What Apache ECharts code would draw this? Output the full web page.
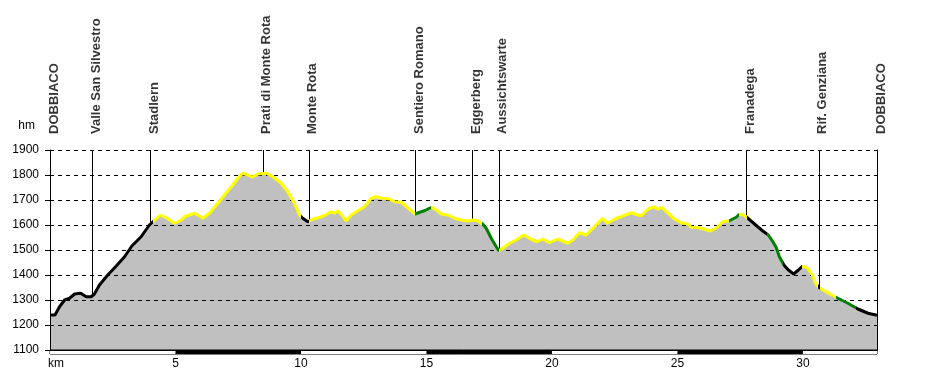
<!DOCTYPE html>
<html><head><meta charset="utf-8">
<script src="https://cdn.jsdelivr.net/npm/echarts@6/dist/echarts.min.js"></script>
<style>html,body{margin:0;padding:0;background:#fff}#c{width:927px;height:380px}</style>
</head><body><div id="c"></div>
<script>
// Elevation profile (km, metres)
const kmValues = [0,0.2,0.38,0.58,0.78,0.98,1.22,1.44,1.64,1.77,1.97,2.30,2.64,2.97,3.26,3.63,3.96,4.10,4.40,4.67,4.96,5.23,5.40,5.76,6.09,6.35,6.69,6.95,7.28,7.48,7.68,7.88,8.06,8.28,8.61,8.88,9.21,9.47,9.74,9.94,10.07,10.27,10.47,10.74,10.94,11.2,11.33,11.47,11.63,11.80,12.0,12.26,12.53,12.8,12.96,13.26,13.53,13.73,13.99,14.25,14.55,14.79,14.92,15.12,15.21,15.39,15.59,15.85,16.12,16.38,16.65,16.84,17.04,17.24,17.38,17.58,17.78,17.88,18.04,18.31,18.57,18.88,19.17,19.41,19.63,19.9,20.23,20.63,20.83,21.1,21.36,21.69,22.02,22.2,22.49,22.82,23.16,23.42,23.56,23.82,24.05,24.22,24.38,24.62,24.88,25.15,25.41,25.55,25.88,26.08,26.31,26.54,26.8,27.07,27.34,27.47,27.64,27.76,27.92,28.2,28.4,28.62,28.8,28.93,29.06,29.24,29.42,29.63,29.82,29.99,30.19,30.37,30.5,30.63,30.86,31.15,31.39,31.79,32.19,32.59,32.95];
const elevValues = [1240,1240,1273,1300,1307,1324,1327,1313,1313,1324,1360,1400,1436,1473,1516,1553,1600,1613,1640,1627,1607,1620,1635,1647,1627,1647,1687,1720,1760,1787,1807,1800,1791,1804,1807,1793,1767,1733,1687,1640,1627,1613,1623,1631,1638,1653,1647,1656,1640,1616,1640,1657,1673,1707,1713,1707,1704,1693,1691,1669,1644,1653,1657,1667,1671,1660,1644,1640,1627,1620,1616,1620,1617,1604,1587,1547,1513,1497,1507,1527,1540,1560,1543,1533,1544,1529,1544,1527,1540,1569,1560,1593,1627,1607,1623,1636,1649,1640,1637,1663,1673,1663,1671,1647,1624,1609,1604,1591,1589,1583,1576,1587,1613,1617,1631,1643,1640,1631,1617,1593,1576,1560,1533,1511,1473,1440,1420,1404,1420,1436,1427,1400,1367,1351,1337,1320,1307,1287,1264,1247,1239];

// Surface sections (start km, type)
const segmentStartKm = [0,4.10,10.0,10.3,14.55,15.2,17.2,17.88,27.05,27.45,27.76,28.55,29.2,29.95,30.6,30.68,31.3,32.1];
const segmentSurface = ['road','path','road','path','trail','path','trail','path','trail','path','road','trail','road','path','road','path','trail','road'];

// Waypoints
const waypointNames = ['DOBBIACO','Valle San Silvestro','Stadlern','Prati di Monte Rota','Monte Rota','Sentiero Romano','Eggerberg','Aussichtswarte','Franadega','Rif. Genziana','DOBBIACO'];
const waypointKm = [0,1.70,3.99,8.48,10.31,14.57,16.84,17.88,27.76,30.63,32.95];
const waypointElev = [1240,1318,1605,1807,1614,1645,1620,1497,1631,1351,1100];

const surfaceColors = {road:'#000000', path:'#ffff00', trail:'#008000'};
const profile = kmValues.map((k,i)=>[k, elevValues[i]]);
const pieces = segmentStartKm.map((s,i)=>({gte:s, lt: i<segmentStartKm.length-1 ? segmentStartKm[i+1] : 100, color: surfaceColors[segmentSurface[i]]}));

const font = '"Liberation Sans", Arial, sans-serif';
const chart = echarts.init(document.getElementById('c'), null, {renderer:'canvas'});
chart.setOption({
  animation:false,
  backgroundColor:'#ffffff',
  textStyle:{fontFamily:font},
  grid:[
    {left:50,top:150,width:827,height:200},
    {left:50,top:350,width:827,height:4,show:true,borderColor:'#000',borderWidth:1,backgroundColor:'transparent'}
  ],
  visualMap:{type:'piecewise',show:false,dimension:0,seriesIndex:1,pieces:pieces},
  xAxis:[
    {gridIndex:0,type:'value',min:0,max:32.95,interval:5,axisLine:{show:true,onZero:false,lineStyle:{color:'#000'}},axisTick:{show:false},axisLabel:{show:false},splitLine:{show:false}},
    {gridIndex:1,type:'value',min:0,max:32.95,interval:5,axisLine:{show:false},axisTick:{show:false},splitLine:{show:false},
      splitArea:{show:true,areaStyle:{color:['#ffffff','#000000']}},
      axisLabel:{margin:4,color:'#000',fontSize:12,fontFamily:font,showMaxLabel:false,
        formatter:v=>v===0?'{km|km}':(v%5===0?String(v):''),
        rich:{km:{padding:[0,0,0,12],fontSize:12,color:'#000',fontFamily:font}}}}
  ],
  yAxis:[
    {gridIndex:0,type:'value',min:1100,max:1900,interval:100,name:'hm',nameLocation:'end',nameGap:24,
      nameTextStyle:{fontSize:12,color:'#000',align:'right',verticalAlign:'middle',padding:[0,15,0,0],fontFamily:font},
      axisLine:{show:true,lineStyle:{color:'#000'}},axisTick:{show:true,length:5,lineStyle:{color:'#000'}},
      axisLabel:{margin:11,color:'#000',fontSize:12,fontFamily:font,formatter:v=>String(v)},
      splitLine:{show:true,lineStyle:{color:'#000',type:[4,4],width:1}}},
    {gridIndex:0,type:'value',position:'right',min:1100,max:1900,interval:100,axisLine:{show:true,lineStyle:{color:'#000'}},axisTick:{show:false},axisLabel:{show:false},splitLine:{show:false}},
    {gridIndex:1,type:'value',min:0,max:1,show:false}
  ],
  series:[
    {type:'line',xAxisIndex:0,yAxisIndex:0,data:profile,showSymbol:false,z:-1,lineStyle:{width:0,color:'#c0c0c0'},
      areaStyle:{color:'#c0c0c0',opacity:1,origin:'start'},silent:true},
    {type:'line',xAxisIndex:0,yAxisIndex:0,data:profile,showSymbol:false,z:5,lineStyle:{width:3},silent:true},
    {type:'scatter',xAxisIndex:0,yAxisIndex:0,symbolSize:0,clip:false,z:6,silent:true,
      data:waypointKm.map((k,i)=>({value:[k,1900],name:waypointNames[i]})),
      label:{show:true,position:'top',distance:16,rotate:90,align:'left',verticalAlign:'middle',offset:[0,4],
        formatter:p=>p.name,fontSize:13,fontWeight:'bold',color:'#000',fontFamily:font},
      markLine:{silent:true,symbol:'none',animation:false,label:{show:false},lineStyle:{color:'#000',width:1,type:'solid'},
        data:waypointKm.map((k,i)=>[{coord:[k,waypointElev[i]]},{coord:[k,1900]}])}}
  ]
});
</script></body></html>
